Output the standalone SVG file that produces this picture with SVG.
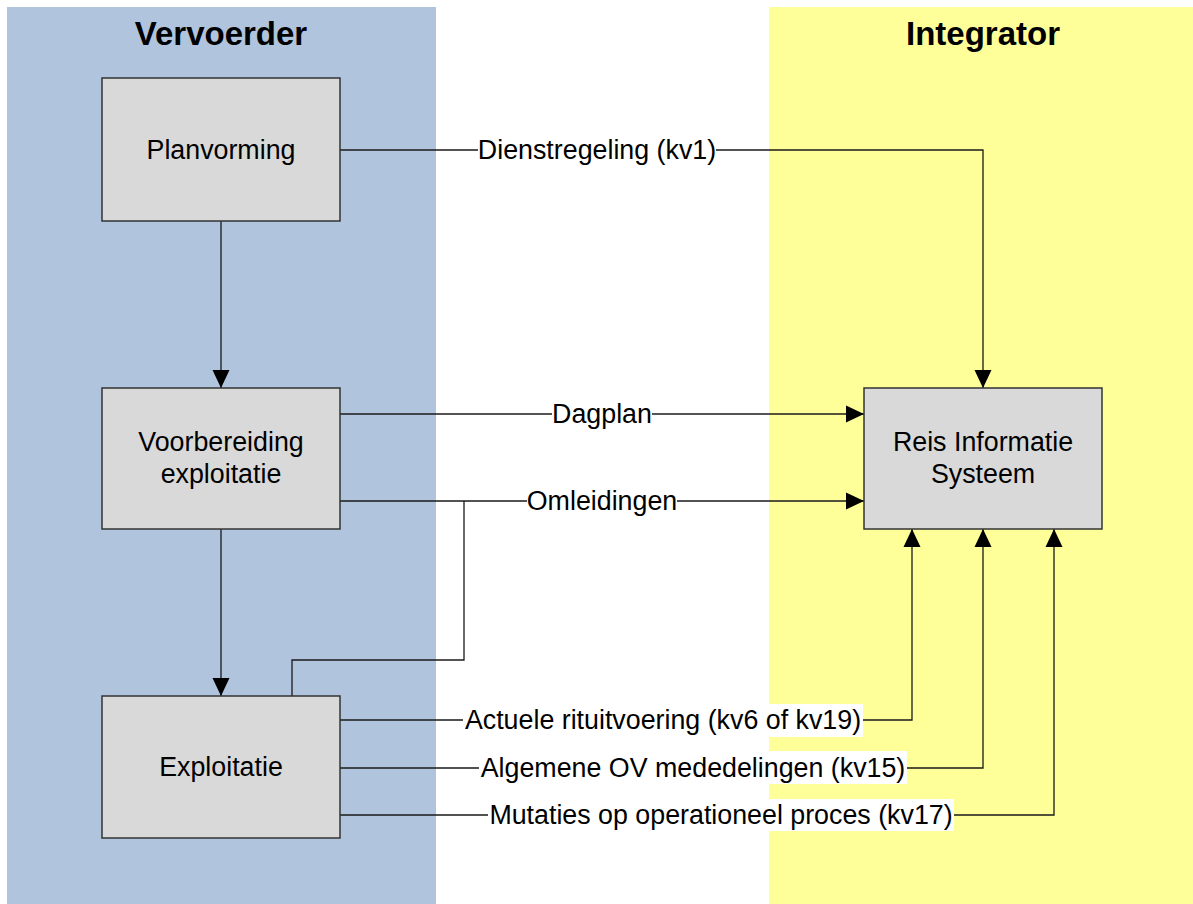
<svg xmlns="http://www.w3.org/2000/svg" width="1193" height="904" viewBox="0 0 1193 904">
<style>
.title{font-family:"Liberation Sans",Arial,sans-serif;font-size:33px;font-weight:bold;fill:#000;text-anchor:middle}
.node rect{fill:#d9d9d9;stroke:#333;stroke-width:1.5}
.node text{font-family:"Liberation Sans",Arial,sans-serif;font-size:26.8px;fill:#000;text-anchor:middle}
.conn path{fill:none;stroke:#1a1a1a;stroke-width:1.3}
.lbl rect{fill:#fff}
.lbl text{font-family:"Liberation Sans",Arial,sans-serif;font-size:26.8px;fill:#000;text-anchor:middle}
</style>
<defs>
<marker id="arr" markerUnits="userSpaceOnUse" markerWidth="18" markerHeight="18" viewBox="0 0 18 18" refX="18" refY="9" orient="auto">
<path d="M0,0.5 L18,9 L0,17.5 z" fill="#000"/>
</marker>
</defs>
<rect width="1193" height="904" fill="#fff"/>
<g id="lanes">
<rect x="7" y="7" width="429" height="897" fill="#b0c4de"/>
<rect x="769" y="7" width="424" height="897" fill="#ffff99"/>
<text class="title" x="221" y="45">Vervoerder</text>
<text class="title" x="983" y="45">Integrator</text>
</g>
<g id="connectors" class="conn">
<path d="M340,150 H983 V388" marker-end="url(#arr)"/>
<path d="M340,414 H864" marker-end="url(#arr)"/>
<path d="M340,501 H864" marker-end="url(#arr)"/>
<path d="M464,501 V660 H292 V696"/>
<path d="M221,221 V388" marker-end="url(#arr)"/>
<path d="M221,529 V696" marker-end="url(#arr)"/>
<path d="M340,720 H912 V529" marker-end="url(#arr)"/>
<path d="M340,768 H983 V529" marker-end="url(#arr)"/>
<path d="M340,815 H1054 V529" marker-end="url(#arr)"/>
</g>
<g id="labels" class="lbl">
<rect x="478" y="134" width="238" height="33"/>
<text x="597" y="159">Dienstregeling (kv1)</text>
<rect x="552" y="398" width="100" height="33"/>
<text x="602" y="423">Dagplan</text>
<rect x="527" y="485" width="150" height="33"/>
<text x="602" y="510">Omleidingen</text>
<rect x="463" y="704" width="400" height="33"/>
<text x="663" y="729">Actuele rituitvoering (kv6 of kv19)</text>
<rect x="479" y="751" width="428" height="33"/>
<text x="693" y="777">Algemene OV mededelingen (kv15)</text>
<rect x="488" y="799" width="466" height="32"/>
<text x="721" y="824">Mutaties op operationeel proces (kv17)</text>
</g>
<g id="planvorming" class="node">
<rect x="102" y="78" width="238" height="143"/>
<text x="221" y="159">Planvorming</text>
</g>
<g id="voorbereiding" class="node">
<rect x="102" y="388" width="238" height="141"/>
<text x="221" y="451">Voorbereiding</text>
<text x="221" y="483">exploitatie</text>
</g>
<g id="exploitatie" class="node">
<rect x="102" y="696" width="238" height="142"/>
<text x="221" y="776">Exploitatie</text>
</g>
<g id="ris" class="node">
<rect x="864" y="388" width="238" height="141"/>
<text x="983" y="451">Reis Informatie</text>
<text x="983" y="483">Systeem</text>
</g>
</svg>
